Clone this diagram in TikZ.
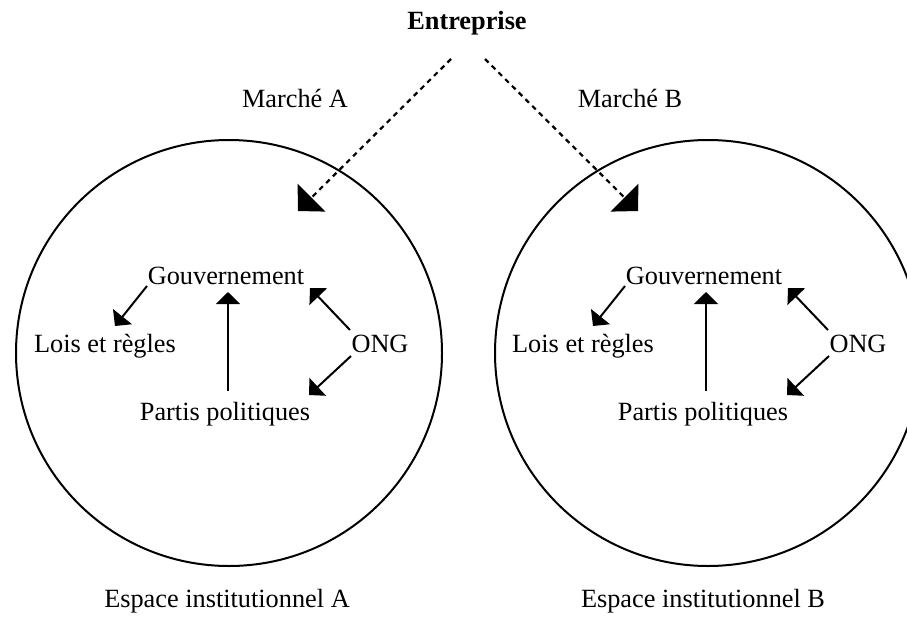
\documentclass[tikz,border=0pt]{standalone}
\usepackage{fontspec}
\setmainfont{Liberation Serif}
\usetikzlibrary{arrows.meta,calc}
\begin{document}
\begin{tikzpicture}[x=1pt,y=-1pt,
  font=\fontsize{26.3}{30}\selectfont,
  lbl/.style={inner sep=0pt, anchor=base},
  arr/.style={line width=2pt, -{Triangle[width=24pt,length=12pt]}},
  darr/.style={line width=2.2pt, dash pattern=on 5pt off 4.5pt, -{Triangle[width=39pt,length=19pt]}},
  ring/.style={circle, draw, line width=2pt, minimum size=426pt, inner sep=0pt}]
\useasboundingbox (0,0) rectangle (907,616);
\clip (0,0) rectangle (907,616);
\node[lbl, font=\fontsize{26.3}{30}\selectfont\bfseries] (ent) at (467,29) {Entreprise};
\node[lbl] (mA) at (295,107) {Marché A};
\node[lbl] (mB) at (630,107) {Marché B};
\node[ring] (circA) at (229,353) {};
\node[ring] (circB) at (708,353) {};
\node[lbl] (espA) at (227,607) {Espace institutionnel A};
\node[lbl] (espB) at (703,607) {Espace institutionnel B};
\foreach \dx/\s in {0/A, 478/B} {
  \node[lbl] (gov\s) at (226+\dx,284) {Gouvernement};
  \node[lbl] (lois\s) at (105+\dx,352) {Lois et règles};
  \node[lbl] (ong\s) at (380+\dx,352) {ONG};
  \node[lbl] (partis\s) at (225+\dx,420) {Partis politiques};
  \draw[arr] ($(gov\s.base)+(-79,2)$) -- ($(lois\s.base)+(10,-26)$);
  \draw[arr] ($(partis\s.base)+(3,-29)$) -- ($(gov\s.base)+(2,8)$);
  \draw[arr] ($(ong\s.base)+(-30,-22)$) -- ($(gov\s.base)+(84,4)$);
  \draw[arr] ($(ong\s.base)+(-29,4)$) -- ($(partis\s.base)+(84,-25)$);
}
\draw[darr] ($(ent.base)+(-16,30)$) -- ($(circA.center)+(69,-142)$);
\draw[darr] ($(ent.base)+(18,30)$) -- ($(circB.center)+(-70,-142)$);
\end{tikzpicture}
\end{document}
